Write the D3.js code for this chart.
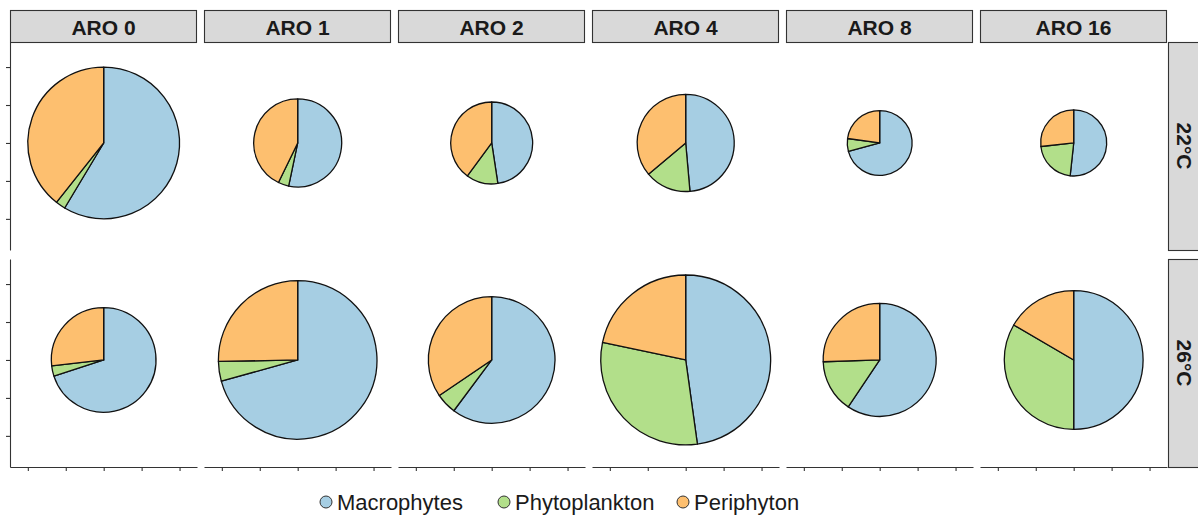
<!DOCTYPE html>
<html>
<head>
<meta charset="utf-8">
<script src="https://cdn.jsdelivr.net/npm/d3@7"></script>
<style>
  html, body { margin: 0; padding: 0; background: #fff; }
  svg { display: block; font-family: "Liberation Sans", Arial, sans-serif; }
</style>
</head>
<body>
<svg id="chart" width="1198" height="515"></svg>
<script>
// Facet levels
const aroLevels = ["ARO 0", "ARO 1", "ARO 2", "ARO 4", "ARO 8", "ARO 16"];
const temperatures = ["22°C", "26°C"];
const groups = ["Macrophytes", "Phytoplankton", "Periphyton"];
const groupColors = ["#A6CEE3", "#B2DF8A", "#FDBF6F"];

// Share of each primary producer group, per ARO level (22 °C)
const macro22 = [0.586, 0.533, 0.476, 0.486, 0.708, 0.517];
const phyto22 = [0.021, 0.039, 0.125, 0.153, 0.064, 0.216];
const peri22  = [0.393, 0.428, 0.399, 0.361, 0.228, 0.267];
// Share of each primary producer group, per ARO level (26 °C)
const macro26 = [0.700, 0.707, 0.602, 0.478, 0.594, 0.500];
const phyto26 = [0.032, 0.040, 0.053, 0.305, 0.151, 0.334];
const peri26  = [0.268, 0.253, 0.345, 0.217, 0.255, 0.166];
// Pie radius in axis units (scaled by total biomass)
const radius22 = [2.00, 1.16, 1.08, 1.28, 0.855, 0.87];
const radius26 = [1.38, 2.09, 1.67, 2.24, 1.49, 1.83];

const axisTicks = [-2, -1, 0, 1, 2];

const rows = [
  { label: temperatures[0], shares: [macro22, phyto22, peri22], radius: radius22 },
  { label: temperatures[1], shares: [macro26, phyto26, peri26], radius: radius26 }
];

const svg = d3.select("#chart");
const ink = "#333333";

// Facet geometry
const panelLeft = 10, panelW = 187, panelGap = 7;
const rowTops = [42, 259], panelH = 208;
const stripTop = 10, stripH = 32;
const stripRightX = 1168, stripRightW = 34;

const xScale = d3.scaleLinear().domain([-2.47, 2.46]).range([0, panelW]);
const yScale = d3.scaleLinear().domain([-2.82, 2.66]).range([panelH, 0]);
const pxPerUnit = xScale(1) - xScale(0);

const pie = d3.pie().sort(null).value(d => d);

// Column strips
aroLevels.forEach((lab, i) => {
  const x0 = panelLeft + i * (panelW + panelGap);
  svg.append("rect")
    .attr("x", x0 + 0.5).attr("y", stripTop + 0.5)
    .attr("width", panelW - 1).attr("height", stripH)
    .attr("fill", "#D9D9D9").attr("stroke", ink).attr("stroke-width", 1.1);
  svg.append("text")
    .attr("x", x0 + panelW / 2).attr("y", stripTop + stripH / 2 + 1)
    .attr("text-anchor", "middle").attr("dominant-baseline", "central")
    .attr("font-size", 21).attr("font-weight", "bold").attr("fill", "#1A1A1A")
    .text(lab);
});

rows.forEach((row, r) => {
  const y0 = rowTops[r];

  // Row strip on the right
  svg.append("rect")
    .attr("x", stripRightX + 0.5).attr("y", y0 + 0.5)
    .attr("width", stripRightW).attr("height", panelH)
    .attr("fill", "#D9D9D9").attr("stroke", ink).attr("stroke-width", 1.1);
  svg.append("text")
    .attr("transform", `translate(${stripRightX + 16},${y0 + panelH / 2}) rotate(90)`)
    .attr("text-anchor", "middle").attr("dominant-baseline", "central")
    .attr("font-size", 21).attr("font-weight", "bold").attr("fill", "#1A1A1A")
    .text(row.label);

  aroLevels.forEach((lab, i) => {
    const x0 = panelLeft + i * (panelW + panelGap);
    const g = svg.append("g").attr("transform", `translate(${x0},${y0})`);

    const values = row.shares.map(s => s[i]);
    const rPx = row.radius[i] * pxPerUnit;
    const arc = d3.arc().innerRadius(0).outerRadius(rPx);

    g.append("g")
      .attr("transform", `translate(${xScale(0)},${yScale(0)})`)
      .selectAll("path")
      .data(pie(values))
      .join("path")
      .attr("d", arc)
      .attr("fill", (d, k) => groupColors[k])
      .attr("stroke", "#111")
      .attr("stroke-width", 1.3)
      .attr("stroke-linejoin", "round");

    // Left axis on the first column
    if (i === 0) {
      const ya = d3.axisLeft(yScale).tickValues(axisTicks).tickFormat("").tickSize(4).tickSizeOuter(0);
      const ag = g.append("g").call(ya);
      ag.select(".domain").attr("stroke", ink).attr("stroke-width", 1.1);
      ag.selectAll(".tick line").attr("stroke", ink).attr("stroke-width", 1.1);
    }
    // Bottom axis on the bottom row
    if (r === rows.length - 1) {
      const xa = d3.axisBottom(xScale).tickValues(axisTicks).tickFormat("").tickSize(4).tickSizeOuter(0);
      const ag = g.append("g").attr("transform", `translate(0,${panelH})`).call(xa);
      ag.select(".domain").attr("stroke", ink).attr("stroke-width", 1.1);
      ag.selectAll(".tick line").attr("stroke", ink).attr("stroke-width", 1.1);
    }
  });
});

// Legend
const legendX = [326, 504, 683];
const legend = svg.append("g");
groups.forEach((name, k) => {
  legend.append("circle")
    .attr("cx", legendX[k]).attr("cy", 502).attr("r", 6)
    .attr("fill", groupColors[k]).attr("stroke", ink).attr("stroke-width", 1);
  legend.append("text")
    .attr("x", legendX[k] + 11).attr("y", 502)
    .attr("dominant-baseline", "central")
    .attr("font-size", 22).attr("fill", "#1A1A1A")
    .text(name);
});
</script>
</body>
</html>
